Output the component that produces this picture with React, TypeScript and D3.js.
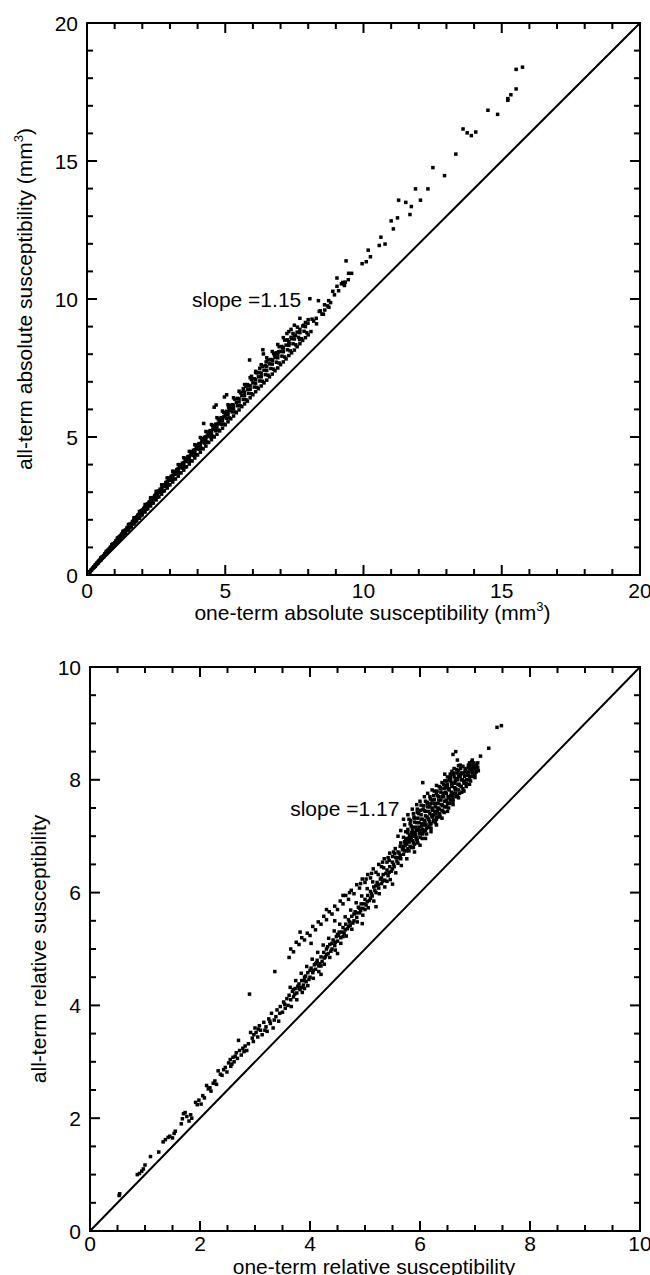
import React from "react";
import * as d3 from "d3";

// ---------- Top panel data: one-term vs all-term absolute susceptibility (mm^3)
const absCenter: [number, number][] = [
  [0.05,0.06],[0.08,0.1],[0.1,0.12],[0.12,0.13],[0.15,0.18],[0.18,0.2],[0.2,0.24],[0.22,0.25],[0.25,0.3],[0.28,0.31],
  [0.3,0.36],[0.33,0.37],[0.35,0.42],[0.38,0.43],[0.4,0.47],[0.42,0.49],[0.45,0.52],[0.48,0.56],[0.5,0.59],[0.52,0.6],
  [0.55,0.64],[0.58,0.66],[0.6,0.7],[0.63,0.72],[0.65,0.77],[0.68,0.78],[0.7,0.82],[0.73,0.83],[0.75,0.88],[0.78,0.9],
  [0.8,0.94],[0.83,0.95],[0.85,1.0],[0.88,1.01],[0.9,1.06],[0.93,1.07],[0.95,1.12],[0.98,1.13],[1.0,1.17],[1.03,1.18],
  [1.05,1.23],[1.08,1.24],[1.1,1.29],[1.13,1.3],[1.15,1.33],[1.18,1.37],[1.2,1.41],[1.23,1.42],[1.25,1.47],[1.28,1.48],
  [1.3,1.52],[1.33,1.53],[1.35,1.58],[1.38,1.59],[1.4,1.63],[1.43,1.65],[1.45,1.7],[1.48,1.71],[1.5,1.75],[1.53,1.76],
  [1.55,1.82],[1.58,1.82],[1.6,1.86],[1.63,1.88],[1.65,1.93],[1.68,1.94],[1.7,2.0],[1.73,1.99],[1.75,2.05],[1.78,2.06],
  [1.8,2.1],[1.83,2.12],[1.85,2.17],[1.88,2.17],[1.9,2.22],[1.93,2.24],[1.95,2.28],[1.98,2.29],[2.0,2.35],[2.03,2.35],
  [2.05,2.38],[2.08,2.42],[2.1,2.45],[2.13,2.47],[2.15,2.5],[2.18,2.52],[2.2,2.58],[2.23,2.58],[2.25,2.62],[2.28,2.64],
  [2.3,2.7],[2.33,2.7],[2.35,2.74],[2.38,2.76],[2.4,2.8],[2.43,2.82],[2.45,2.86],[2.48,2.88],[2.5,2.92],[2.55,2.96],
  [2.6,3.04],[2.65,3.08],[2.7,3.15],[2.75,3.2],[2.8,3.27],[2.85,3.3],[2.9,3.38],[2.95,3.42],[3.0,3.5],[3.05,3.54],
  [3.1,3.61],[3.15,3.65],[3.2,3.73],[3.25,3.77],[3.3,3.85],[3.35,3.88],[3.4,3.96],[3.45,4.0],[3.5,4.07],[3.55,4.12],
  [3.6,4.2],[3.65,4.23],[3.7,4.3],[3.75,4.35],[3.8,4.42],[3.85,4.46],[3.9,4.53],[3.95,4.58],[4.0,4.65],[4.05,4.7],
  [4.1,4.76],[4.15,4.82],[4.2,4.88],[4.25,4.93],[4.3,5.0],[4.35,5.04],[4.4,5.11],[4.45,5.16],[4.5,5.22],[4.55,5.28],
  [4.6,5.35],[4.65,5.38],[4.7,5.46],[4.75,5.5],[4.8,5.57],[4.85,5.62],[4.9,5.68],[4.95,5.73],[5.0,5.8],[5.05,5.84],
  [5.1,5.92],[5.15,5.96],[5.2,6.03],[5.25,6.08],[5.3,6.15],[5.4,6.25],[5.5,6.38],[5.6,6.5],[5.7,6.62],[5.8,6.72],
  [5.9,6.85],[6.0,6.96],[6.1,7.08],[6.2,7.18],[6.3,7.3],[6.4,7.42],[6.5,7.55],[6.6,7.65],[6.7,7.77],[6.8,7.88],
  [6.9,8.0],[7.0,8.1],[7.1,8.22],[7.2,8.33],[7.3,8.45],[7.4,8.56],[7.5,8.68],[7.6,8.8],[7.7,8.9],[7.8,9.02],[7.9,9.15],[8.0,9.25],
];
const absLower: [number, number][] = [
  [0.3,0.32],[0.4,0.44],[0.5,0.54],[0.6,0.65],[0.7,0.76],[0.8,0.87],[0.9,0.98],[1.0,1.09],[1.1,1.2],[1.2,1.31],
  [1.3,1.41],[1.4,1.53],[1.5,1.63],[1.6,1.74],[1.7,1.85],[1.8,1.96],[1.9,2.06],[2.0,2.18],[2.1,2.28],[2.2,2.4],
  [2.3,2.5],[2.4,2.61],[2.5,2.72],[2.6,2.83],[2.7,2.93],[2.8,3.05],[2.9,3.15],[3.0,3.27],[3.1,3.37],[3.2,3.48],
  [3.3,3.58],[3.4,3.7],[3.5,3.8],[3.6,3.92],[3.7,4.02],[3.8,4.13],[3.9,4.24],[4.0,4.35],[4.1,4.45],[4.2,4.57],
  [4.3,4.67],[4.4,4.8],[4.5,4.9],[4.6,5.0],[4.7,5.1],[4.8,5.22],[4.9,5.32],[5.0,5.44],[5.1,5.55],[5.2,5.66],
  [5.3,5.76],[5.4,5.88],[5.5,5.98],[5.6,6.1],[5.7,6.2],[5.8,6.3],[5.9,6.42],[6.0,6.53],[6.1,6.64],[6.2,6.75],
  [6.3,6.85],[6.4,6.96],[6.5,7.06],[6.6,7.18],[6.7,7.28],[6.8,7.4],[6.9,7.5],[7.0,7.62],[7.1,7.72],[7.2,7.83],
  [7.3,7.95],[7.4,8.05],[7.5,8.15],[7.6,8.27],[7.7,8.38],[7.8,8.5],[7.9,8.6],[8.0,8.7],[8.1,8.82],
];
const absRow105: [number, number][] = [
  [0.15,0.17],[0.35,0.39],[0.55,0.61],[0.75,0.83],[0.95,1.05],[1.15,1.27],[1.35,1.49],[1.55,1.71],[1.75,1.93],[1.95,2.15],
  [2.15,2.38],[2.35,2.6],[2.55,2.82],[2.75,3.04],[2.95,3.26],[3.15,3.48],[3.35,3.7],[3.55,3.92],[3.75,4.14],[3.95,4.36],
  [4.15,4.59],[4.35,4.81],[4.55,5.03],[4.75,5.25],[4.95,5.47],[5.15,5.69],[5.35,5.91],[5.55,6.13],[5.75,6.35],[5.95,6.57],
  [6.15,6.8],[6.35,7.02],[6.55,7.24],[6.75,7.46],[6.95,7.68],[7.15,7.9],[7.35,8.12],[7.55,8.34],[7.75,8.56],[7.95,8.78],
];
const absRow125: [number, number][] = [
  [0.25,0.28],[0.45,0.51],[0.65,0.73],[0.85,0.96],[1.05,1.18],[1.25,1.41],[1.45,1.63],[1.65,1.86],[1.85,2.08],[2.05,2.31],
  [2.25,2.53],[2.45,2.76],[2.65,2.98],[2.85,3.21],[3.05,3.43],[3.25,3.66],[3.45,3.88],[3.65,4.11],[3.85,4.33],[4.05,4.56],
  [4.25,4.78],[4.45,5.01],[4.65,5.23],[4.85,5.46],[5.05,5.68],[5.25,5.91],[5.45,6.13],[5.65,6.36],[5.85,6.58],[6.05,6.81],
  [6.25,7.03],[6.45,7.26],[6.65,7.48],[6.85,7.71],[7.05,7.93],[7.25,8.16],[7.45,8.38],[7.65,8.61],[7.85,8.83],
];
const absRow140: [number, number][] = [
  [0.1,0.11],[0.3,0.34],[0.5,0.57],[0.7,0.8],[0.9,1.03],[1.1,1.25],[1.3,1.48],[1.5,1.71],[1.7,1.94],[1.9,2.17],
  [2.1,2.39],[2.3,2.62],[2.5,2.85],[2.7,3.08],[2.9,3.31],[3.1,3.53],[3.3,3.76],[3.5,3.99],[3.7,4.22],[3.9,4.45],
  [4.1,4.67],[4.3,4.9],[4.5,5.13],[4.7,5.36],[4.9,5.59],[5.1,5.81],[5.3,6.04],[5.5,6.27],[5.7,6.5],[5.9,6.73],
  [6.1,6.95],[6.3,7.18],[6.5,7.41],[6.7,7.64],[6.9,7.87],[7.1,8.09],[7.3,8.32],[7.5,8.55],[7.7,8.78],[7.9,9.0],
];
const absRow175: [number, number][] = [
  [0.25,0.29],[0.45,0.53],[0.65,0.76],[0.85,1.0],[1.05,1.23],[1.25,1.47],[1.45,1.7],[1.65,1.94],[1.85,2.17],[2.05,2.41],
  [2.25,2.64],[2.45,2.88],[2.65,3.11],[2.85,3.35],[3.05,3.58],[3.25,3.82],[3.45,4.05],[3.65,4.29],[3.85,4.52],[4.05,4.76],
  [4.25,4.99],[4.45,5.23],[4.65,5.46],[4.85,5.7],[5.05,5.93],[5.25,6.17],[5.45,6.4],[5.65,6.64],[5.85,6.87],[6.05,7.11],
  [6.25,7.34],[6.45,7.58],[6.65,7.81],[6.85,8.05],[7.05,8.28],[7.25,8.52],[7.45,8.75],
];
const absRow190: [number, number][] = [
  [0.35,0.42],[0.55,0.65],[0.75,0.89],[0.95,1.13],[1.15,1.37],[1.35,1.61],[1.55,1.84],[1.75,2.08],[1.95,2.32],[2.15,2.56],
  [2.35,2.8],[2.55,3.03],[2.75,3.27],[2.95,3.51],[3.15,3.75],[3.35,3.99],[3.55,4.22],[3.75,4.46],[3.95,4.7],[4.15,4.94],
  [4.35,5.18],[4.55,5.41],[4.75,5.65],[4.95,5.89],[5.15,6.13],[5.35,6.37],[5.55,6.6],[5.75,6.84],[5.95,7.08],[6.15,7.32],
  [6.35,7.56],[6.55,7.79],[6.75,8.03],[6.95,8.27],[7.15,8.51],
];
const absUpper: [number, number][] = [
  [0.5,0.62],[0.7,0.86],[0.9,1.1],[1.1,1.34],[1.3,1.58],[1.5,1.83],[1.7,2.07],[1.9,2.3],[2.1,2.55],[2.3,2.8],
  [2.5,3.03],[2.7,3.27],[2.9,3.52],[3.1,3.76],[3.3,4.0],[3.5,4.25],[3.7,4.48],[3.9,4.72],[4.1,4.98],[4.3,5.2],
  [4.5,5.45],[4.7,5.7],[4.9,5.94],[5.1,6.17],[5.3,6.42],[5.5,6.66],[5.7,6.9],[5.9,7.15],[6.1,7.38],[6.3,7.62],
  [6.5,7.87],[6.7,8.1],[6.9,8.35],[7.1,8.6],[7.3,8.82],[7.5,9.05],[7.7,9.3],
];
const absSparse: [number, number][] = [
  [15.75,18.4],[15.52,18.32],[15.52,17.61],[15.33,17.4],[15.22,17.26],[15.22,17.2],[14.5,16.84],[14.85,16.69],
  [13.6,16.16],[13.75,16.02],[13.9,15.92],[14.06,16.05],[13.34,15.25],[12.93,14.47],[12.51,14.76],
  [12.33,13.99],[11.88,13.99],[12.06,13.58],[11.73,13.35],[11.68,13.06],[11.27,13.58],[11.53,13.5],[11.23,12.94],
  [11.0,12.83],[11.08,12.54],[10.63,12.24],[10.57,11.94],[10.78,11.99],[10.17,11.77],[10.1,11.35],[9.95,11.28],
  [10.25,11.53],[9.37,11.38],[9.46,10.93],[9.34,10.61],[9.31,10.49],[9.57,10.93],[9.04,10.76],[9.04,10.46],
  [8.89,10.28],[8.81,9.87],[8.74,9.94],[8.59,9.79],[8.37,9.94],[8.44,9.57],[8.06,10.01],[8.29,9.3],[8.14,9.27],
  [7.99,9.12],[7.84,9.05],[7.61,8.98],[7.38,8.9],[7.23,8.75],[7.38,8.61],[7.54,8.68],[7.69,8.53],[7.31,8.38],
  [7.08,8.23],[6.93,8.09],[6.78,7.97],[6.71,7.79],[6.48,7.72],[6.36,8.16],[6.38,8.01],[5.88,7.79],[6.25,7.49],
  [6.1,7.34],[5.95,7.2],[5.8,6.9],[5.65,6.75],[5.05,6.53],[4.97,6.45],[4.67,6.16],[4.6,6.08],[5.12,6.08],
  [4.22,5.49],[8.6,9.6],[8.7,9.75],[8.5,9.45],[8.2,9.2],[8.4,9.55],[9.2,10.55],[9.45,10.7],[8.95,10.15],
  [8.3,9.1],[8.55,9.45],[8.75,9.7],[9.1,10.3],[9.25,10.6],
];

// ---------- Bottom panel data: one-term vs all-term relative susceptibility
const relLow: [number, number][] = [
  [0.53,0.63],[0.54,0.66],[0.86,1.0],[0.9,1.02],[0.94,1.06],[0.97,1.1],[1.0,1.17],[1.1,1.32],[1.25,1.4],[1.33,1.58],
  [1.37,1.62],[1.42,1.66],[1.45,1.68],[1.5,1.65],[1.53,1.73],[1.55,1.77],[1.66,1.9],[1.68,1.99],[1.7,2.08],[1.73,2.1],
  [1.76,2.03],[1.8,1.95],[1.83,2.06],[1.85,2.0],[1.92,2.28],[1.95,2.24],[1.98,2.32],[2.02,2.25],[2.05,2.4],[2.08,2.36],
  [2.12,2.58],[2.15,2.52],[2.18,2.54],[2.2,2.48],[2.24,2.62],[2.27,2.66],[2.3,2.6],[2.33,2.84],[2.37,2.78],[2.4,2.76],
  [2.43,2.86],[2.46,2.9],[2.49,2.82],[2.52,2.98],[2.55,3.04],[2.56,2.92],[2.6,3.08],[2.62,3.0],[2.66,3.16],[2.68,3.06],
  [2.7,3.38],[2.72,3.2],[2.75,3.12],[2.78,3.24],[2.82,3.28],[2.85,3.2],[2.88,3.32],[2.9,4.2],[2.92,3.52],[2.95,3.42],
  [2.97,3.36],[3.0,3.6],[3.02,3.52],[3.05,3.44],[3.08,3.64],[3.1,3.56],[3.13,3.48],[3.16,3.7],[3.2,3.62],[3.22,3.54],
  [3.25,3.76],[3.28,3.68],[3.3,3.86],[3.33,3.6],[3.36,4.6],[3.38,3.8],[3.4,3.92],[3.43,3.72],[3.46,3.98],[3.5,3.88],
  [3.52,4.06],[3.55,3.95],[3.58,4.12],[3.6,4.0],
  [2.58,2.96],[2.64,3.1],[2.8,3.18],[2.98,3.48],[3.06,3.58],[3.18,3.56],[3.27,3.72],[3.35,3.74],[3.45,3.86],[3.54,4.02],
];
const relBandB: [number, number][] = [
  [3.62,4.18],[3.65,4.1],[3.68,4.25],[3.7,4.15],[3.73,4.3],[3.76,4.22],[3.8,4.38],[3.82,4.28],[3.85,4.44],[3.88,4.36],
  [3.9,4.5],[3.93,4.42],[3.96,4.58],[4.0,4.5],[4.02,4.66],[4.05,4.58],[4.08,4.72],[4.1,4.64],[4.13,4.8],[4.16,4.7],
  [4.2,4.86],[4.22,4.78],[4.25,4.94],[4.28,4.86],[4.3,5.0],[4.33,4.92],[4.36,5.08],[4.4,5.0],[4.42,5.16],[4.45,5.06],
  [4.48,5.22],[4.5,5.14],[4.53,5.3],[4.56,5.2],[4.6,5.38],[4.62,5.28],[4.65,5.44],[4.68,5.36],[4.7,5.52],[4.73,5.42],
  [4.76,5.58],[4.8,5.5],[4.82,5.66],[4.85,5.56],[4.88,5.74],[4.9,5.64],[4.93,5.8],[4.96,5.72],[5.0,5.88],[5.02,5.78],
  [5.05,5.95],[5.08,5.86],[5.1,6.02],[5.13,5.94],[5.16,6.1],[5.2,6.0],[5.22,6.18],[5.25,6.08],[5.28,6.24],[5.3,6.16],
  [5.33,6.32],[5.36,6.22],[5.4,6.4],[5.42,6.3],[5.45,6.46],[5.48,6.38],[5.5,6.54],[5.53,6.46],[5.56,6.62],[5.6,6.52],
  [5.62,6.7],[5.65,6.6],[5.68,6.76],[5.7,6.68],[5.73,6.84],[5.76,6.74],[5.8,6.9],[5.82,6.82],
  [3.64,4.32],[3.74,4.44],[3.84,4.57],[3.94,4.69],[4.04,4.82],[4.14,4.94],[4.24,5.07],[4.34,5.19],[4.44,5.32],[4.54,5.44],
  [4.64,5.57],[4.74,5.69],[4.84,5.82],[4.94,5.94],[5.04,6.07],[5.14,6.19],[5.24,6.32],[5.34,6.44],[5.44,6.57],[5.54,6.69],
  [5.64,6.82],[5.74,6.94],
  [3.66,3.98],[3.76,4.1],[3.86,4.23],[3.96,4.35],[4.06,4.48],[4.16,4.6],[4.26,4.73],[4.36,4.85],[4.46,4.98],[4.56,5.1],
  [4.66,5.23],[4.76,5.35],[4.86,5.48],[4.96,5.6],[5.06,5.73],[5.16,5.85],[5.26,5.98],[5.36,6.1],[5.46,6.23],[5.56,6.35],
  [5.66,6.48],[5.76,6.6],
  [3.9,4.3],[4.2,4.55],[4.5,4.92],[4.95,5.45],[5.2,5.75],[5.5,6.15],
  [3.7,4.28],[3.8,4.3],[3.9,4.44],[4.0,4.62],[4.1,4.74],[4.2,4.7],[4.3,4.9],[4.4,5.1],[4.5,5.26],[4.6,5.22],
  [4.7,5.4],[4.8,5.62],[4.9,5.72],[5.0,5.7],[5.1,5.9],[5.2,6.12],[5.3,6.26],[5.4,6.2],[5.5,6.42],[5.6,6.62],
  [5.7,6.78],[5.78,6.78],
  [3.72,4.2],[3.78,4.34],[3.84,4.32],[3.92,4.52],[3.98,4.46],[4.06,4.62],[4.12,4.76],[4.18,4.74],[4.26,4.84],[4.32,5.04],
  [4.38,4.96],[4.46,5.12],[4.52,5.24],[4.58,5.3],[4.64,5.34],[4.72,5.48],[4.78,5.46],[4.84,5.64],[4.92,5.68],[4.98,5.8],
  [5.04,5.84],[5.12,5.98],[5.18,6.04],[5.24,6.14],[5.32,6.2],[5.38,6.34],[5.44,6.36],[5.52,6.5],[5.58,6.56],[5.64,6.66],
  [5.72,6.74],
];
const relBandA: [number, number][] = [
  [3.65,5.0],[3.7,4.95],[3.75,5.12],[3.8,5.08],[3.85,5.2],[3.9,5.16],[3.95,5.28],[4.0,5.24],[4.05,5.4],[4.1,5.34],
  [4.15,5.48],[4.2,5.44],[4.25,5.58],[4.3,5.52],[4.35,5.66],[4.4,5.62],[4.45,5.76],[4.5,5.7],[4.55,5.85],[4.6,5.8],
  [4.65,5.95],[4.7,5.88],[4.75,6.04],[4.8,5.98],[4.85,6.14],[4.9,6.08],[4.95,6.24],[5.0,6.18],[5.05,6.32],[5.1,6.26],
  [5.15,6.42],[5.2,6.36],[5.25,6.5],[5.3,6.46],[5.35,6.6],[5.4,6.54],[5.45,6.7],[5.5,6.64],[5.55,6.78],[5.6,6.72],
  [5.65,6.88],[5.7,6.82],[5.75,6.96],[5.8,6.9],[5.85,7.06],[5.9,7.0],
  [3.62,4.85],[3.82,5.3],[4.02,5.1],[4.3,5.7],[4.6,5.95],[4.45,5.5],
  [4.72,6.0],[4.92,6.16],[5.12,6.34],[5.32,6.54],[5.52,6.72],[5.72,6.9],[5.02,6.24],[5.42,6.62],
];
const relCluster: [number, number][] = [
  [5.85,6.8],[5.9,6.86],[5.95,6.92],[6.0,6.98],[6.05,7.04],[6.1,7.1],[6.15,7.16],[6.2,7.22],[6.25,7.28],[6.3,7.34],
  [6.35,7.4],[6.4,7.46],[6.45,7.52],[6.5,7.58],[6.55,7.64],[6.6,7.7],[6.65,7.76],[6.7,7.82],[6.75,7.88],[6.8,7.94],
  [6.85,8.0],[6.9,8.06],[6.95,8.12],[7.0,8.18],[7.05,8.22],
  [5.82,6.98],[5.88,7.04],[5.93,7.1],[5.98,7.16],[6.03,7.22],[6.08,7.28],[6.13,7.34],[6.18,7.4],[6.23,7.46],[6.28,7.52],
  [6.33,7.58],[6.38,7.64],[6.43,7.7],[6.48,7.76],[6.53,7.82],[6.58,7.88],[6.63,7.94],[6.68,8.0],[6.73,8.06],[6.78,8.12],
  [6.83,8.18],[6.88,8.22],[6.93,8.26],[6.98,8.3],
  [5.78,7.12],[5.84,7.18],[5.9,7.25],[5.96,7.32],[6.02,7.38],[6.08,7.45],[6.14,7.52],[6.2,7.58],[6.26,7.65],[6.32,7.72],
  [6.38,7.78],[6.44,7.85],[6.5,7.92],[6.56,7.98],[6.62,8.05],[6.68,8.12],[6.74,8.2],
  [5.72,7.2],[5.8,7.3],[5.88,7.4],[5.95,7.48],[6.02,7.55],[6.1,7.62],[6.18,7.7],[6.26,7.8],[6.35,7.88],[6.45,7.98],
  [6.55,8.1],[6.62,8.2],[6.68,8.35],[6.65,8.5],[6.6,8.45],
  [5.9,6.72],[6.0,6.84],[6.1,6.96],[6.2,7.08],[6.3,7.2],[6.4,7.32],[6.5,7.44],[6.6,7.56],[6.7,7.68],[6.8,7.8],
  [6.9,7.92],[7.0,8.04],
  [5.86,7.1],[5.92,7.16],[5.98,7.24],[6.04,7.3],[6.1,7.36],[6.16,7.44],[6.22,7.5],[6.28,7.58],[6.34,7.64],[6.4,7.7],
  [6.46,7.78],[6.52,7.84],[6.58,7.92],[6.64,7.98],[6.7,8.06],[6.76,8.12],[6.82,8.2],[6.88,8.26],[6.94,8.32],
  [5.75,6.95],[5.81,7.02],[5.87,6.92],[5.93,6.98],[5.99,7.06],[6.05,7.12],[6.11,7.2],[6.17,7.26],[6.23,7.34],[6.29,7.4],
  [6.35,7.48],[6.41,7.54],[6.47,7.62],[6.53,7.68],[6.59,7.76],[6.65,7.84],[6.71,7.92],[6.77,8.0],[6.83,8.08],[6.89,8.14],
  [6.95,8.2],[7.01,8.26],
  [5.76,6.86],[5.84,6.94],[5.92,7.02],[6.0,7.1],[6.08,7.2],[6.16,7.3],[6.24,7.38],[6.32,7.46],[6.4,7.56],[6.48,7.64],
  [6.56,7.72],[6.64,7.82],[6.72,7.9],[6.8,7.98],[6.88,8.08],[6.96,8.16],[7.04,8.2],
  [5.7,6.98],[5.78,7.06],[5.86,7.16],[5.94,7.24],[6.02,7.3],[6.1,7.44],[6.18,7.52],[6.26,7.58],[6.34,7.7],[6.42,7.76],
  [6.5,7.86],[6.58,7.94],[6.66,8.02],[6.74,8.1],[6.82,8.14],[6.9,8.2],[6.98,8.24],
  [5.74,7.08],[5.82,7.22],[5.9,7.32],[5.98,7.4],[6.06,7.48],[6.14,7.58],[6.22,7.64],[6.3,7.76],[6.38,7.84],[6.46,7.9],
  [6.54,8.0],[6.62,8.12],[6.7,8.16],[6.78,8.24],
  [5.8,6.74],[5.88,6.8],[5.96,6.88],[6.04,6.96],[6.12,7.04],[6.2,7.14],[6.28,7.24],[6.36,7.34],[6.44,7.42],[6.52,7.5],
  [6.6,7.62],[6.68,7.72],[6.76,7.78],[6.84,7.88],[6.92,7.98],[7.0,8.1],[7.06,8.16],
  [5.6,7.0],[5.65,7.1],[5.7,7.3],[5.78,7.38],[5.86,7.48],[5.94,7.56],[6.0,7.62],[6.08,7.7],[6.14,7.76],[6.22,7.82],
  [6.3,7.9],[6.4,7.95],[6.5,8.05],[6.58,8.15],[6.45,8.1],[6.7,8.25],
  [5.73,6.9],[5.79,6.96],[5.85,7.0],[5.91,7.06],[5.97,7.12],[6.03,7.18],[6.09,7.24],[6.15,7.3],[6.21,7.36],[6.27,7.44],
  [6.33,7.5],[6.39,7.56],[6.45,7.62],[6.51,7.7],[6.57,7.78],[6.63,7.86],[6.69,7.92],[6.75,8.0],[6.81,8.06],[6.87,8.12],
  [6.93,8.18],[6.99,8.22],
  [5.83,7.28],[5.89,7.34],[5.95,7.42],[6.01,7.46],[6.07,7.54],[6.13,7.6],[6.19,7.66],[6.25,7.72],[6.31,7.8],[6.37,7.86],
  [6.43,7.92],[6.49,7.98],[6.55,8.04],[6.61,8.1],[6.67,8.18],[6.73,8.26],
  [5.88,6.88],[5.94,6.94],[6.0,7.04],[6.06,7.08],[6.12,7.14],[6.18,7.2],[6.24,7.26],[6.3,7.3],[6.36,7.38],[6.42,7.44],
  [6.48,7.52],[6.54,7.58],[6.6,7.66],[6.66,7.7],[6.72,7.76],[6.78,7.84],[6.84,7.94],[6.9,8.0],[6.96,8.06],[7.02,8.14],
  [6.05,7.95],[7.03,8.25],[7.1,8.42],[7.25,8.56],[7.4,8.93],[7.48,8.96],[6.95,8.35],[6.9,8.3],[7.05,8.3],
];

const absTicksMajor = [0, 5, 10, 15, 20];
const absTicksMinor = [1, 2, 3, 4, 6, 7, 8, 9, 11, 12, 13, 14, 16, 17, 18, 19];
const relTicksMajor = [0, 2, 4, 6, 8, 10];
const relTicksMinor = [0.5, 1, 1.5, 2.5, 3, 3.5, 4.5, 5, 5.5, 6.5, 7, 7.5, 8.5, 9, 9.5];

const FONT = "'Liberation Sans', Arial, sans-serif";
const FS = 21;
const DOT = 3.5;

type Geo = { left: number; top: number; width: number; height: number; max: number };

function scales(g: Geo) {
  const x = d3.scaleLinear().domain([0, g.max]).range([g.left, g.left + g.width]);
  const y = d3.scaleLinear().domain([0, g.max]).range([g.top + g.height, g.top]);
  return { x, y, x0: g.left, x1: g.left + g.width, y0: g.top + g.height, y1: g.top };
}

function tickElems(g: Geo, majors: number[], minors: number[], prefix: string) {
  const { x, y, x0, x1, y0, y1 } = scales(g);
  const out: React.ReactElement[] = [];
  const sets: [number[], number][] = [[majors, 10], [minors, 6]];
  sets.forEach(([vals, len], si) => {
    vals.forEach((v) => {
      const xv = x(v), yv = y(v);
      const k = `${prefix}-${si}-${v}`;
      out.push(<line key={k + "b"} x1={xv} x2={xv} y1={y0} y2={y0 - len} stroke="#000" strokeWidth={2} />);
      out.push(<line key={k + "t"} x1={xv} x2={xv} y1={y1} y2={y1 + len} stroke="#000" strokeWidth={2} />);
      out.push(<line key={k + "l"} x1={x0} x2={x0 + len} y1={yv} y2={yv} stroke="#000" strokeWidth={2} />);
      out.push(<line key={k + "r"} x1={x1} x2={x1 - len} y1={yv} y2={yv} stroke="#000" strokeWidth={2} />);
    });
  });
  return out;
}

function dotElems(g: Geo, points: [number, number][], prefix: string) {
  const { x, y } = scales(g);
  return points.map((pt, i) => (
    <rect key={prefix + i} x={x(pt[0]) - DOT / 2} y={y(pt[1]) - DOT / 2} width={DOT} height={DOT} fill="#000" />
  ));
}

function frameElems(g: Geo, majors: number[], xLabelDy: number, prefix: string) {
  const { x, y, x0, x1, y0, y1 } = scales(g);
  return [
    <line key={prefix + "diag"} x1={x(0)} y1={y(0)} x2={x(g.max)} y2={y(g.max)} stroke="#000" strokeWidth={2} />,
    <rect key={prefix + "frame"} x={x0} y={y1} width={x1 - x0} height={y0 - y1} fill="none" stroke="#000" strokeWidth={2} />,
    ...majors.map((v) => (
      <text key={prefix + "yl" + v} x={x0 - 9} y={y(v)} dy="0.36em" textAnchor="end" fontSize={FS} fontFamily={FONT} fill="#000">
        {v}
      </text>
    )),
    ...majors.map((v) => (
      <text key={prefix + "xl" + v} x={x(v)} y={y0 + xLabelDy} textAnchor="middle" fontSize={FS} fontFamily={FONT} fill="#000">
        {v}
      </text>
    )),
  ];
}

const absGeo: Geo = { left: 87, top: 23, width: 553, height: 552, max: 20 };
const relGeo: Geo = { left: 90, top: 667, width: 550, height: 564, max: 10 };

export default function App() {
  const absPoints = [
    ...absLower, ...absRow105, ...absRow125, ...absCenter, ...absRow140,
    ...absRow175, ...absRow190, ...absUpper, ...absSparse,
  ];
  const relPoints = [...relLow, ...relBandB, ...relBandA, ...relCluster];
  const A = scales(absGeo);
  const R = scales(relGeo);
  return (
    <svg width={650} height={1275} style={{ position: "absolute", left: 0, top: 0 }}>
      <rect width={650} height={1275} fill="#fff" />
      {dotElems(absGeo, absPoints, "ap")}
      {dotElems(relGeo, relPoints, "rp")}
      {frameElems(absGeo, absTicksMajor, 23, "af")}
      {frameElems(relGeo, relTicksMajor, 20, "rf")}
      {tickElems(absGeo, absTicksMajor, absTicksMinor, "at")}
      {tickElems(relGeo, relTicksMajor, relTicksMinor, "rt")}
      <text x={A.x(3.8)} y={A.y(10)} dy="0.36em" fontSize={FS} fontFamily={FONT} fill="#000">slope =1.15</text>
      <text x={R.x(3.64)} y={R.y(7.5)} dy="0.36em" fontSize={FS} fontFamily={FONT} fill="#000">slope =1.17</text>
      <text x={(A.x0 + A.x1) / 2 + 9} y={620} textAnchor="middle" fontSize={FS} fontFamily={FONT} fill="#000">
        one-term absolute susceptibility (mm<tspan dy={-9} fontSize={13}>3</tspan>
        <tspan dy={9}>)</tspan>
      </text>
      <text
        transform={`translate(32,${(A.y0 + A.y1) / 2}) rotate(-90)`}
        textAnchor="middle"
        fontSize={FS}
        fontFamily={FONT}
        fill="#000"
      >
        all-term absolute susceptibility (mm<tspan dy={-9} fontSize={13}>3</tspan>
        <tspan dy={9}>)</tspan>
      </text>
      <text x={(R.x0 + R.x1) / 2 + 9} y={1274} textAnchor="middle" fontSize={FS} fontFamily={FONT} fill="#000">
        one-term relative susceptibility
      </text>
      <text
        transform={`translate(46,${(R.y0 + R.y1) / 2}) rotate(-90)`}
        textAnchor="middle"
        fontSize={FS}
        fontFamily={FONT}
        fill="#000"
      >
        all-term relative susceptibility
      </text>
    </svg>
  );
}
